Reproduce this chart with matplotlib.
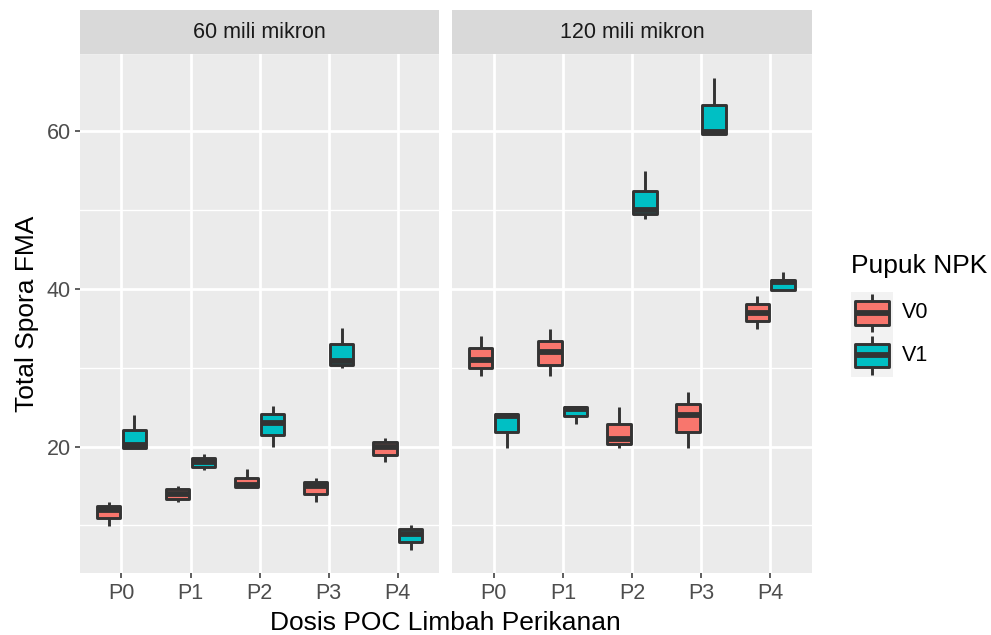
import matplotlib
matplotlib.use("Agg")
import matplotlib.pyplot as plt
from matplotlib.patches import Rectangle
import numpy as np

plt.rcParams['font.family'] = ['Liberation Sans', 'DejaVu Sans']

categories = ['P0', 'P1', 'P2', 'P3', 'P4']
facets = ['60 mili mikron', '120 mili mikron']
groups = ['V0', 'V1']
colors = ['#F8766D', '#00BFC4']

# box stats: [whislo, q1, med, q3, whishi]
left_v0 = [[9.9, 10.94, 11.96, 12.43, 13.0],
           [13.0, 13.4, 14.0, 14.55, 15.0],
           [14.85, 14.85, 15.1, 16.04, 17.15],
           [12.98, 13.96, 14.98, 15.53, 15.96],
           [18.0, 18.94, 20.0, 20.55, 21.1]]
left_v1 = [[19.87, 19.87, 20.13, 22.09, 24.04],
           [17.0, 17.45, 18.0, 18.6, 19.02],
           [19.9, 21.5, 23.0, 24.13, 25.1],
           [30.0, 30.4, 30.9, 33.0, 35.0],
           [6.9, 7.91, 8.89, 9.53, 10.0]]
right_v0 = [[28.94, 29.96, 30.96, 32.47, 34.04],
            [28.94, 30.38, 32.06, 33.45, 34.98],
            [19.8, 20.38, 20.94, 22.89, 25.02],
            [19.8, 21.87, 23.94, 25.36, 26.94],
            [34.9, 35.91, 36.98, 38.04, 39.1]]
right_v1 = [[19.8, 21.87, 23.87, 24.09, 24.09],
            [22.85, 23.87, 24.8, 25.06, 25.06],
            [48.86, 49.46, 50.0, 52.49, 54.97],
            [59.7, 59.7, 59.9, 63.38, 66.8],
            [39.84, 39.84, 40.9, 41.1, 42.1]]

panel_data = [[left_v0, left_v1], [right_v0, right_v1]]
y_ticks = [20, 40, 60]
y_minor = [10, 30, 50, 70]

all_vals = np.array(left_v0 + left_v1 + right_v0 + right_v1)
lo, hi = all_vals.min(), all_vals.max()
pad = 0.05 * (hi - lo)
ylim = (lo - pad, hi + pad)

W, H = 991, 635
fig = plt.figure(figsize=(W / 100, H / 100), dpi=100)

dark = '#333333'
lw = 2.1
mlw = 4.2
panel_left_px = [80, 452.3]
panel_w_px = 359.3
panel_top_px, panel_bot_px = 54.3, 573.3
strip_top_px = 10
small_fs = 15.5
big_fs = 19

def fx(px):
    return px / W

def fy(py):
    return 1 - py / H

for i, (lx, fac) in enumerate(zip(panel_left_px, facets)):
    ax = fig.add_axes([fx(lx), fy(panel_bot_px), panel_w_px / W,
                       (panel_bot_px - panel_top_px) / H])
    ax.set_facecolor('#EBEBEB')
    for s in ax.spines.values():
        s.set_visible(False)
    ax.set_xlim(0.4, len(categories) + 0.6)
    ax.set_ylim(*ylim)
    for yv in y_minor:
        ax.axhline(yv, color='white', lw=1.0, zorder=0)
    for yv in y_ticks:
        ax.axhline(yv, color='white', lw=1.95, zorder=0.5)
    xpos = np.arange(1, len(categories) + 1)
    for xv in xpos:
        ax.axvline(xv, color='white', lw=1.95, zorder=0.5)
    for g, (series, col) in enumerate(zip(panel_data[i], colors)):
        offset = -0.1875 if g == 0 else 0.1875
        stats = [dict(whislo=s[0], q1=s[1], med=s[2], q3=s[3], whishi=s[4],
                      fliers=[]) for s in series]
        ax.bxp(stats, positions=xpos + offset, widths=0.3375,
               patch_artist=True, showcaps=False, showfliers=False,
               boxprops=dict(facecolor=col, edgecolor=dark, linewidth=lw,
                             joinstyle='round'),
               whiskerprops=dict(color=dark, linewidth=lw, solid_capstyle='butt'),
               medianprops=dict(color=dark, linewidth=mlw, solid_capstyle='butt'),
               manage_ticks=False, zorder=2)
    ax.set_xticks(xpos)
    ax.set_xticklabels(categories)
    ax.set_yticks(y_ticks)
    ax.tick_params(axis='both', colors=dark, length=3.8, width=1.1,
                   labelsize=small_fs, labelcolor='#4D4D4D', pad=3)
    if i == 0:
        ax.set_yticklabels([str(v) for v in y_ticks])
    else:
        ax.tick_params(axis='y', left=False, labelleft=False)
    # strip
    sax = fig.add_axes([fx(lx), fy(panel_top_px), panel_w_px / W,
                        (panel_top_px - strip_top_px) / H])
    sax.set_facecolor('#D9D9D9')
    sax.set_xticks([]); sax.set_yticks([])
    for s in sax.spines.values():
        s.set_visible(False)
    sax.text(0.5, 0.5, fac, ha='center', va='center', fontsize=small_fs,
             color='#1A1A1A', transform=sax.transAxes)

# axis titles
fig.text(fx((80 + 811) / 2), fy(623), 'Dosis POC Limbah Perikanan',
         ha='center', va='center', fontsize=big_fs, color='black')
fig.text(fx(27), fy((panel_top_px + panel_bot_px) / 2), 'Total Spora FMA',
         ha='center', va='center', rotation=90, fontsize=big_fs, color='black')

# legend
fig.text(fx(851), fy(266), 'Pupuk NPK', ha='left', va='center',
         fontsize=big_fs, color='black')
key_x0, key_w = 850.7, 42
key_tops = [291.7, 334.2]
key_h = 42.5
for g, (name, col, kt) in enumerate(zip(groups, colors, key_tops)):
    kax = fig.add_axes([fx(key_x0), fy(kt + key_h), key_w / W, key_h / H])
    kax.set_xlim(0, 1); kax.set_ylim(0, 1)
    kax.set_facecolor('#F2F2F2')
    kax.set_xticks([]); kax.set_yticks([])
    for s in kax.spines.values():
        s.set_visible(False)
    kax.plot([0.5, 0.5], [0.05, 0.22], color=dark, lw=lw, solid_capstyle='butt')
    kax.plot([0.5, 0.5], [0.78, 0.95], color=dark, lw=lw, solid_capstyle='butt')
    kax.add_patch(Rectangle((0.1, 0.22), 0.8, 0.56, facecolor=col,
                            edgecolor=dark, lw=lw, joinstyle='round'))
    kax.plot([0.1, 0.9], [0.5, 0.5], color=dark, lw=mlw, solid_capstyle='butt')
    fig.text(fx(902), fy(kt + key_h / 2), name, ha='left', va='center',
             fontsize=small_fs, color='black')

fig.savefig('out.png', dpi=100)
